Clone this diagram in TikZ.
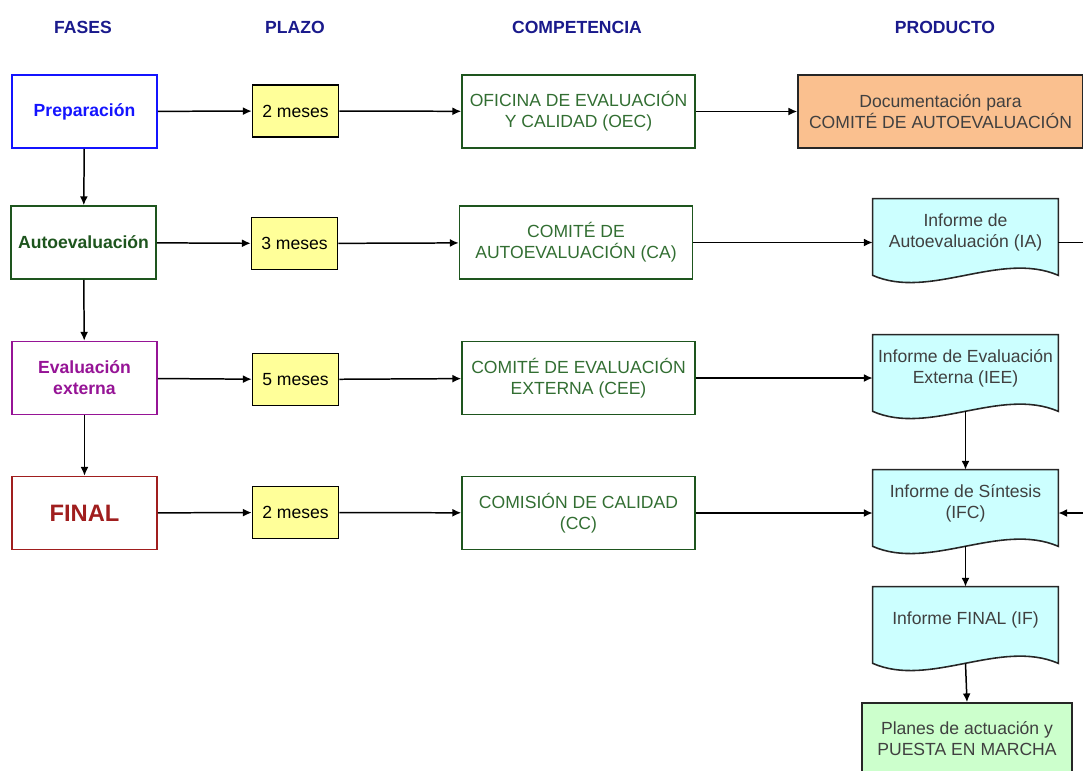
\documentclass[tikz,border=0pt]{standalone}
\usepackage{fontspec}
\setmainfont{Liberation Sans}
\usepackage{tikz}
\usetikzlibrary{arrows.meta,calc}
\definecolor{cabecera}{RGB}{26,26,140}
\definecolor{azulfase}{RGB}{20,20,255}
\definecolor{verdefase}{RGB}{30,85,30}
\definecolor{moradofase}{RGB}{150,20,150}
\definecolor{rojofase}{RGB}{160,30,30}
\definecolor{verdecomp}{RGB}{50,110,50}
\definecolor{amarillo}{RGB}{255,255,153}
\definecolor{naranja}{RGB}{250,192,143}
\definecolor{celeste}{RGB}{204,255,255}
\definecolor{verdeclaro}{RGB}{204,255,204}
\tikzset{
  flecha/.style={-{Latex[length=5pt,width=4.5pt]},line width=0.85pt},
  fase/.style={draw,line width=0.9pt,fill=white,minimum width=2.9cm,minimum height=1.46cm,align=center,font=\bfseries},
  plazo/.style={draw=black,line width=0.9pt,fill=amarillo,minimum width=1.72cm,minimum height=1.04cm},
  comp/.style={draw=verdefase,line width=0.9pt,text=verdecomp,minimum width=4.66cm,minimum height=1.46cm,align=center},
  docbox/.style={minimum width=3.7cm,minimum height=1.32cm,align=center,text=black!75},
  docline/.style={draw=black!85,line width=0.9pt,fill=celeste},
  cabeza/.style={text=cabecera,font=\bfseries}
}
\newcommand{\docshape}[1]{%
  \draw[docline] (#1.north west) -- (#1.north east) -- ($(#1.south east)+(0,10)$)
    .. controls ($(#1.south east)+(-58,-15)$) and ($(#1.south west)+(57,35)$) .. ($(#1.south west)+(0,10)$)
    -- cycle;
  \node[docbox] at (#1) {\csname doctext#1\endcsname};}
\begin{document}
\begin{tikzpicture}[x=0.02cm,y=-0.02cm]
\useasboundingbox (0,0) rectangle (1083,771);
\clip (0,0) rectangle (1083,771);
% cabeceras
\node[cabeza] (hfases) at (83,27) {FASES};
\node[cabeza] (hplazo) at (295,27) {PLAZO};
\node[cabeza] (hcomp) at (577,27) {COMPETENCIA};
\node[cabeza] (hprod) at (945,27) {PRODUCTO};
% fases
\node[fase,draw=azulfase,text=azulfase] (prep) at (84.5,111.5) {Preparación};
\node[fase,draw=verdefase,text=verdefase] (auto) at (83.5,242.5) {Autoevaluación};
\node[fase,draw=moradofase,text=moradofase] (eval) at (84.5,378) {Evaluación\\externa};
\node[fase,draw=rojofase,text=rojofase,font=\fontsize{13.5}{15}\selectfont\bfseries] (final) at (84.5,513) {FINAL};
% plazos
\node[plazo] (p1) at (295.5,111) {2 meses};
\node[plazo] (p2) at (294.5,243.5) {3 meses};
\node[plazo] (p3) at (295.5,379.5) {5 meses};
\node[plazo] (p4) at (295.5,512.5) {2 meses};
% competencias
\node[comp] (oec) at (578.5,111.5) {OFICINA DE EVALUACIÓN\\Y CALIDAD (OEC)};
\node[comp] (ca) at (576,242.5) {COMITÉ DE\\AUTOEVALUACIÓN (CA)};
\node[comp] (cee) at (578.5,378) {COMITÉ DE EVALUACIÓN\\EXTERNA (CEE)};
\node[comp] (cc) at (578.5,513) {COMISIÓN DE CALIDAD\\(CC)};
% productos
\node[draw=black!85,line width=0.9pt,fill=naranja,text=black!75,minimum width=5.7cm,minimum height=1.46cm,align=center] (docu) at (940.5,111.5) {Documentación para\\COMITÉ DE AUTOEVALUACIÓN};
\node[docbox] (ia) at (965.5,232) {};
\node[docbox] (iee) at (965.5,368) {};
\node[docbox] (ifc) at (965.5,503) {};
\node[docbox] (if) at (965.5,620) {};
\expandafter\def\csname doctextia\endcsname{Informe de\\Autoevaluación (IA)}
\expandafter\def\csname doctextiee\endcsname{Informe de Evaluación\\Externa (IEE)}
\expandafter\def\csname doctextifc\endcsname{Informe de Síntesis\\(IFC)}
\expandafter\def\csname doctextif\endcsname{Informe FINAL (IF)}
\docshape{ia}
\docshape{iee}
\docshape{ifc}
\docshape{if}
\node[draw=black!85,line width=0.9pt,fill=verdeclaro,text=black!75,minimum width=4.2cm,minimum height=1.44cm,align=center] (planes) at (967,739) {Planes de actuación y\\PUESTA EN MARCHA};
% conectores
\draw[flecha] (prep) -- (auto);
\draw[flecha] (auto) -- (eval);
\draw[flecha] (eval) -- (final);
\draw[flecha] (prep) -- (p1);
\draw[flecha] (auto) -- (p2);
\draw[flecha] (eval) -- (p3);
\draw[flecha] (final) -- (p4);
\draw[flecha] (p1) -- (oec);
\draw[flecha] (p2) -- (ca);
\draw[flecha] (p3) -- (cee);
\draw[flecha] (p4) -- (cc);
\draw[flecha] (oec) -- (docu);
\draw[flecha] (ca.east) -- (ca -| ia.west);
\draw[flecha] (cee.east) -- (cee -| iee.west);
\draw[flecha] (cc.east) -- (cc -| ifc.west);
\draw[flecha] ($(iee.south)+(0,10)$) -- (ifc.north);
\draw[flecha] ($(ifc.south)+(0,10)$) -- (if.north);
\draw[flecha] ($(if.south)+(0,10)$) -- (planes.north);
\draw[flecha] (ca -| ia.east) -- ++(50,0) |- (cc -| ifc.east);
\end{tikzpicture}
\end{document}
